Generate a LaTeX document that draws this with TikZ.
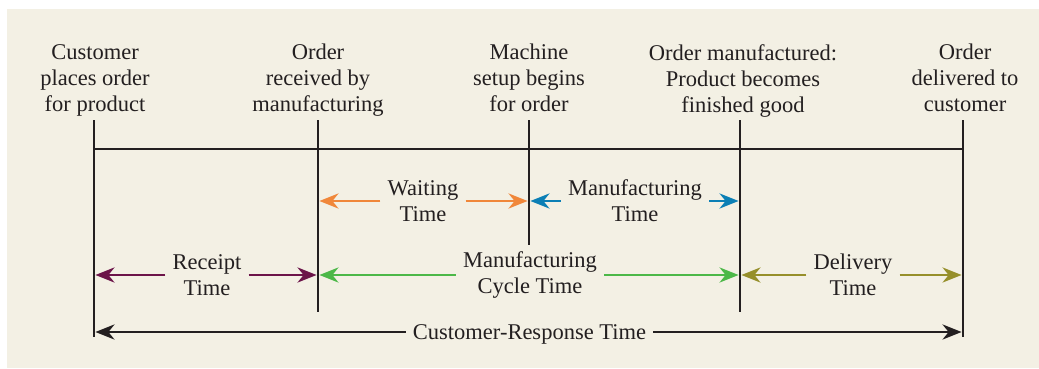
\documentclass[tikz,border=0pt]{standalone}
\usepackage{fontspec}
\setmainfont{Liberation Serif}
\usetikzlibrary{arrows.meta}
\definecolor{panel}{HTML}{F3F0E4}
\definecolor{ink}{HTML}{231F20}
\definecolor{waitc}{HTML}{F0873A}
\definecolor{mfgc}{HTML}{0B7FB5}
\definecolor{rcptc}{HTML}{6C1449}
\definecolor{cyclec}{HTML}{4CB848}
\definecolor{delivc}{HTML}{968F2B}

\begin{document}
\begin{tikzpicture}[x=1pt,y=-1pt,>={Stealth[length=19pt,width=15pt,inset=6pt]},
                    font=\fontsize{22.5}{26}\selectfont,text=ink,
                    event/.style={anchor=north,align=center,inner sep=0pt},
                    span/.style={align=center,inner sep=7pt},
                    tick/.style={ink,line width=2.8pt},
                    dur/.style={#1,line width=2.8pt,->,shorten >=1.4pt}]
  \fill[panel] (7,9) rectangle (1039,368);
  \useasboundingbox (0,0) rectangle (1039,368);
  % event labels
  \node[event] (cust) at (95,44) {Customer\\places order\\for product};
  \node[event] (recv) at (318,44) {Order\\received by\\manufacturing};
  \node[event] (setup) at (529,44) {Machine\\setup begins\\for order};
  \node[event] (made) at (743,44) {Order manufactured:\\Product becomes\\finished good};
  \node[event] (deliv) at (965,44) {Order\\delivered to\\customer};
  % time line and ticks
  \coordinate (t1) at (94,120);  \coordinate (b1) at (94,337);
  \coordinate (t2) at (318,120); \coordinate (b2) at (318,312);
  \coordinate (t3) at (529,120); \coordinate (b3) at (529,245);
  \coordinate (t4) at (740,120); \coordinate (b4) at (740,312);
  \coordinate (t5) at (963,120); \coordinate (b5) at (963,337);
  \coordinate (h1) at (94,149);  \coordinate (h5) at (963,149);
  \draw[tick] (t1)--(b1) (t2)--(b2) (t3)--(b3) (t4)--(b4) (t5)--(b5);
  \draw[tick] (h1)--(h5);
  % upper row
  \node[span] (wait) at (423,201) {Waiting\\Time};
  \draw[dur=waitc] (wait) -- (318,201);
  \draw[dur=waitc] (wait) -- (529,201);
  \node[span] (mfg) at (635,201) {Manufacturing\\Time};
  \draw[dur=mfgc] (mfg) -- (529,201);
  \draw[dur=mfgc] (mfg) -- (740,201);
  % lower row
  \node[span] (rcpt) at (207,275) {Receipt\\Time};
  \draw[dur=rcptc] (rcpt) -- (94,275);
  \draw[dur=rcptc] (rcpt) -- (318,275);
  \node[span] (cycle) at (530,275) {Manufacturing\\Cycle Time};
  \draw[dur=cyclec] (cycle) -- (318,275);
  \draw[dur=cyclec] (cycle) -- (740,275);
  \node[span] (dlv) at (853,275) {Delivery\\Time};
  \draw[dur=delivc] (dlv) -- (740,275);
  \draw[dur=delivc] (dlv) -- (963,275);
  % whole span
  \node[span,text depth=0pt] (resp) at (529.5,332) {Customer-Response Time};
  \draw[dur=ink] (resp) -- (94,332);
  \draw[dur=ink] (resp) -- (963,332);
\end{tikzpicture}
\end{document}
